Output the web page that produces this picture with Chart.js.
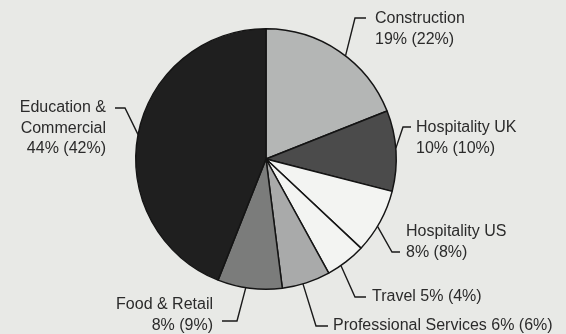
<!DOCTYPE html>
<html>
<head>
<meta charset="utf-8">
<script src="https://cdn.jsdelivr.net/npm/chart.js@4.4.1/dist/chart.umd.min.js"></script>
<style>
  html, body { margin: 0; padding: 0; background: #e8e9e6; }
  #wrap { width: 566px; height: 334px; position: relative; }
</style>
</head>
<body>
<div id="wrap"><canvas id="pie"></canvas></div>
<script>
// Sector shares this year, with last year's share in brackets
const sectors = ['Construction', 'Hospitality UK', 'Hospitality US', 'Travel',
                 'Professional Services', 'Food & Retail', 'Education & Commercial'];
const shares = [19, 10, 8, 5, 6, 8, 44];
const priorShares = [22, 10, 8, 4, 6, 9, 42];
const fills = ['#b4b6b5', '#4b4b4b', '#f3f4f2', '#f3f4f2', '#a9aaaa', '#7b7c7b', '#1f1f1f'];

// How each label is broken into lines, where along its slice the leader
// leaves the rim (0..1), and where the elbow / text sit
const labelLayout = [
  { lines: ['Construction', '{v}'],              at: 0.55, elbow: [355, 18],  end: [366, 18],  x: 375, y: 19,  align: 'left' },
  { lines: ['Hospitality UK', '{v}'],            at: 0.47, elbow: [403, 127], end: [411, 127], x: 416, y: 128, align: 'left' },
  { lines: ['Hospitality US', '{v}'],            at: 0.58, elbow: [392, 252], end: [400, 252], x: 406, y: 232, align: 'left' },
  { lines: ['Travel {v}'],                       at: 0.65, elbow: [355, 297], end: [366, 297], x: 372, y: 297, align: 'left' },
  { lines: ['Professional Services {v}'],        at: 0.57, elbow: [316, 326], end: [328, 326], x: 333, y: 326, align: 'left' },
  { lines: ['Food & Retail', '{v}'],             at: 0.56, elbow: [237, 321], end: [222, 321], x: 213, y: 305, align: 'right' },
  { lines: ['Education &', 'Commercial', '{v}'], at: 0.50, elbow: [125, 108], end: [115, 108], x: 106, y: 108, align: 'right' }
];

const leaderLabels = {
  id: 'leaderLabels',
  afterDatasetsDraw(chart) {
    const ctx = chart.ctx;
    const arcs = chart.getDatasetMeta(0).data;
    ctx.save();
    ctx.font = '16px "Liberation Sans", Arial, sans-serif';
    ctx.textBaseline = 'middle';
    arcs.forEach((arc, i) => {
      const L = labelLayout[i];
      const a = arc.startAngle + (arc.endAngle - arc.startAngle) * L.at;
      const ax = arc.x + Math.cos(a) * arc.outerRadius;
      const ay = arc.y + Math.sin(a) * arc.outerRadius;
      ctx.strokeStyle = '#1a1a1a';
      ctx.lineWidth = 1.4;
      ctx.beginPath();
      ctx.moveTo(ax, ay);
      ctx.lineTo(L.elbow[0], L.elbow[1]);
      ctx.lineTo(L.end[0], L.end[1]);
      ctx.stroke();
      const v = shares[i] + '% (' + priorShares[i] + '%)';
      ctx.fillStyle = '#2b2b2b';
      ctx.textAlign = L.align;
      L.lines.forEach((t, k) => {
        ctx.fillText(t.replace('{v}', v), L.x, L.y + k * 20.5);
      });
    });
    ctx.restore();
  }
};

new Chart(document.getElementById('pie'), {
  type: 'pie',
  data: {
    labels: sectors,
    datasets: [{
      data: shares,
      backgroundColor: fills,
      borderColor: '#141414',
      borderWidth: 1.5
    }]
  },
  options: {
    responsive: true,
    maintainAspectRatio: false,
    animation: false,
    layout: { padding: { left: 135, right: 169, top: 28, bottom: 44 } },
    plugins: {
      legend: { display: false },
      tooltip: { enabled: false }
    }
  },
  plugins: [leaderLabels]
});
</script>
</body>
</html>
